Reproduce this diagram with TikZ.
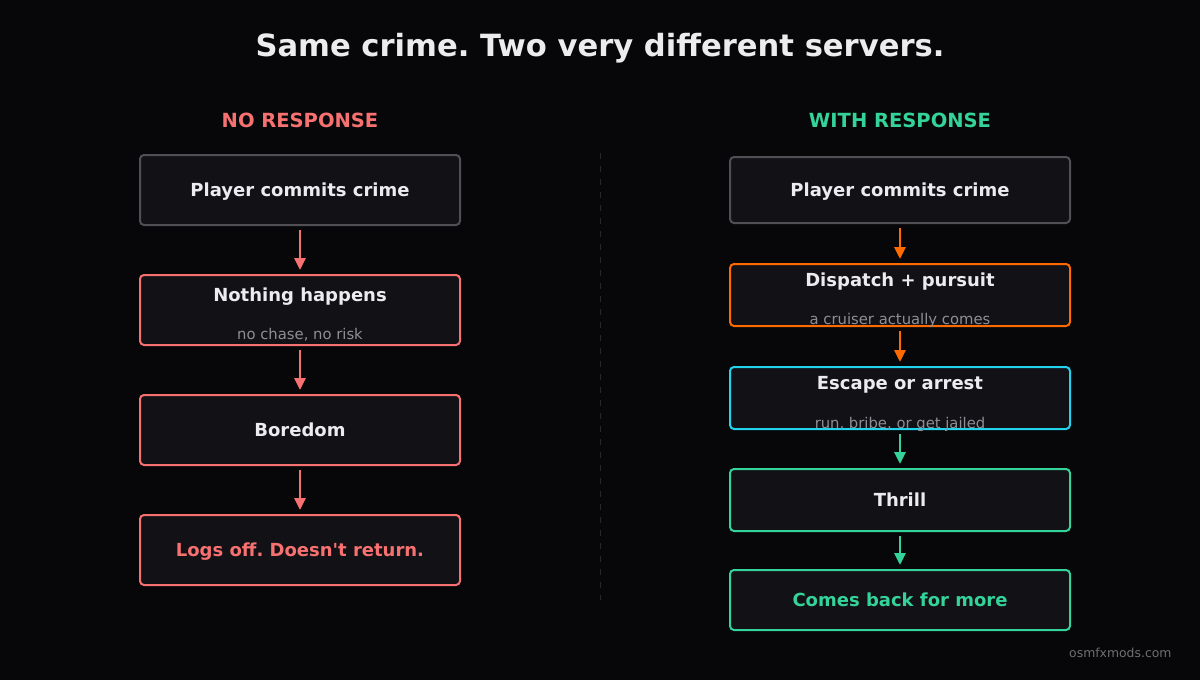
\documentclass[tikz,border=0pt]{standalone}
\usepackage{fontspec}
\setmainfont{DejaVu Sans}
\usepackage{xcolor}
\usetikzlibrary{arrows.meta,positioning}
\frenchspacing

\definecolor{bgdark}{HTML}{070709}
\definecolor{boxfill}{HTML}{111116}
\definecolor{edgegray}{HTML}{505054}
\definecolor{txtwhite}{HTML}{ECECEE}
\definecolor{subgray}{HTML}{8E8E96}
\definecolor{nored}{HTML}{F87171}
\definecolor{chaseorange}{HTML}{FF6A00}
\definecolor{arrestcyan}{HTML}{22D3EE}
\definecolor{thrillgreen}{HTML}{34D399}

\begin{document}
\begin{tikzpicture}[
  x=1pt,y=-1pt,
  box/.style={draw,rounded corners=4pt,line width=2pt,fill=boxfill,text=txtwhite,
    font=\fontsize{18}{21}\selectfont\bfseries,align=center,inner sep=0pt,text depth=0pt},
  lbox/.style={box,minimum width=320pt,minimum height=70pt},
  rbox/.style={box,minimum width=340pt,minimum height=62pt},
  head/.style={font=\fontsize{19.5}{23}\selectfont\bfseries},
  sub/.style={text=subgray,font=\fontsize{14.8}{17}\selectfont},
  arr/.style={-{Triangle[length=12pt,width=11pt]},line width=2.8pt,shorten <=4pt,shorten >=4pt}
]
\fill[bgdark] (0,0) rectangle (1200,680);
\useasboundingbox (0,0) rectangle (1200,680);

\node[text=txtwhite,font=\fontsize{30.6}{36}\selectfont\bfseries] (title) at (600,48) {Same crime. Two very different servers.};

% no response column
\node[head,text=nored] (nohead) at (300,120) {NO RESPONSE};
\node[lbox,draw=edgegray] (l1) at (300,190) {Player commits crime};
\node[lbox,draw=nored,below=48pt of l1] (l2) {};
\node[lbox,draw=nored,below=48pt of l2] (l3) {Boredom};
\node[lbox,draw=nored,below=48pt of l3,text=nored] (l4) {Logs off. Doesn\textquotesingle t return.};
\node[box,draw=none,fill=none] (l2t) at ([yshift=-21pt]l2.north) {Nothing happens};
\node[sub] (l2s) at ([yshift=-61pt]l2.north) {no chase, no risk};
\foreach \a/\b in {l1/l2,l2/l3,l3/l4} \draw[arr,nored] (\a)--(\b);

% divider
\coordinate (divtop) at (600,153);
\coordinate (divbot) at (600,600);
\draw[line width=1pt,dash pattern=on 6pt off 7pt,draw=white!13!bgdark] (divtop)--(divbot);

% with response column
\node[head,text=thrillgreen] (withhead) at (900,120) {WITH RESPONSE};
\node[rbox,draw=edgegray,minimum height=66pt] (r1) at (900,190) {Player commits crime};
\node[rbox,draw=chaseorange,below=39pt of r1] (r2) {};
\node[rbox,draw=arrestcyan,below=39pt of r2] (r3) {};
\node[rbox,draw=thrillgreen,below=38pt of r3] (r4) {Thrill};
\node[rbox,draw=thrillgreen,minimum height=60pt,below=37pt of r4,text=thrillgreen] (r5) {Comes back for more};
\node[box,draw=none,fill=none] (r2t) at ([yshift=-17pt]r2.north) {Dispatch + pursuit};
\node[sub] (r2s) at ([yshift=-57pt]r2.north) {a cruiser actually comes};
\node[box,draw=none,fill=none] (r3t) at ([yshift=-17pt]r3.north) {Escape or arrest};
\node[sub] (r3s) at ([yshift=-58pt]r3.north) {run, bribe, or get jailed};
\draw[arr,chaseorange] (r1)--(r2);
\draw[arr,chaseorange] (r2)--(r3);
\draw[arr,thrillgreen] (r3)--(r4);
\draw[arr,thrillgreen] (r4)--(r5);

\node[text=white!42!bgdark,font=\fontsize{12.4}{15}\selectfont,anchor=east] (mark) at (1175,653) {osmfxmods.com};
\end{tikzpicture}
\end{document}
